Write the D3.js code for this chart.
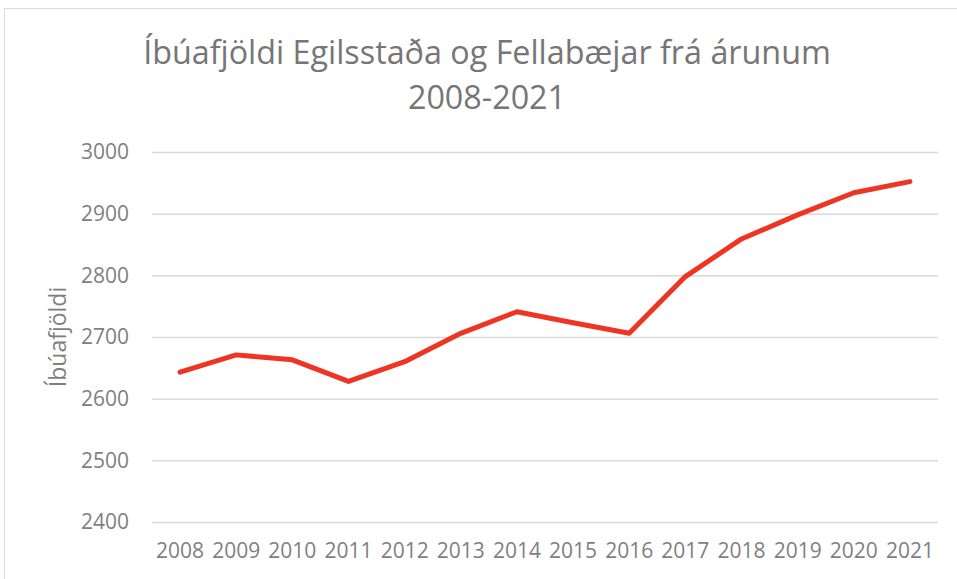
<!DOCTYPE html>
<html lang="is">

<head>
    <meta charset="UTF-8">
    <title>Íbúafjöldi</title>
    <style>
        html, body {
            margin: 0;
            padding: 0;
            background: #fff;
        }

        text {
            font-family: "Open Sans", "Noto Sans", sans-serif;
            fill: #7f7f7f;
        }
    </style>
</head>

<body>
    <div id="wrapper"></div>

    <script src="https://d3js.org/d3.v7.min.js"></script>
    <script>
        // gögn lesin af myndinni
        const years = ['2008', '2009', '2010', '2011', '2012', '2013', '2014',
            '2015', '2016', '2017', '2018', '2019', '2020', '2021'];
        const population = [2643, 2671, 2663, 2628, 2660, 2706, 2741,
            2723, 2706, 2798, 2859, 2898, 2934, 2952];
        const yTicks = [2400, 2500, 2600, 2700, 2800, 2900, 3000];
        const titleLines = ['Íbúafjöldi Egilsstaða og Fellabæjar frá árunum', '2008-2021'];
        const yLabel = 'Íbúafjöldi';

        const width = 957,
            height = 579;
        const plot = { left: 152, right: 938, top: 152, bottom: 522 };

        const svg = d3.select('#wrapper').append('svg')
            .attr('width', width)
            .attr('height', height);

        // rammi utan um grafið
        svg.append('rect')
            .attr('x', 4.5)
            .attr('y', 8.5)
            .attr('width', width + 10)
            .attr('height', height + 10)
            .attr('fill', 'none')
            .attr('stroke', '#d9d9d9')
            .attr('stroke-width', 1);

        // titill
        svg.append('text')
            .attr('text-anchor', 'middle')
            .style('font-size', '32.3px')
            .style('fill', '#767676')
            .selectAll('tspan')
            .data(titleLines)
            .join('tspan')
            .attr('x', 487)
            .attr('y', (d, i) => 64 + i * 45)
            .text(d => d);

        const xScale = d3.scaleBand()
            .domain(years)
            .range([plot.left, plot.right]);

        const yScale = d3.scaleLinear()
            .domain([2400, 3000])
            .range([plot.bottom, plot.top]);

        // y-ás með gridlínum
        const yAxis = d3.axisLeft(yScale)
            .tickValues(yTicks)
            .tickFormat(d3.format('d'))
            .tickSizeInner(-(plot.right - plot.left))
            .tickSizeOuter(0)
            .tickPadding(23);

        const yAxisLine = svg.append('g')
            .attr('transform', `translate(${plot.left},0)`)
            .call(yAxis);
        yAxisLine.select('.domain').remove();
        yAxisLine.selectAll('.tick line')
            .attr('stroke', '#d9d9d9')
            .attr('stroke-width', 1.5);
        yAxisLine.selectAll('.tick text')
            .style('font-size', '21px')
            .attr('fill', null);

        // x-ás
        const xAxis = d3.axisBottom(xScale)
            .tickSize(0)
            .tickPadding(21);

        const xAxisLine = svg.append('g')
            .attr('transform', `translate(0,${plot.bottom})`)
            .call(xAxis);
        xAxisLine.select('.domain').remove();
        xAxisLine.selectAll('.tick text')
            .style('font-size', '21px')
            .attr('fill', null);

        // heiti y-áss
        svg.append('text')
            .attr('transform', `translate(66,${(plot.top + plot.bottom) / 2}) rotate(-90)`)
            .attr('text-anchor', 'middle')
            .style('font-size', '23px')
            .text(yLabel);

        // línan
        const line = d3.line()
            .x((d, i) => xScale(years[i]) + xScale.bandwidth() / 2)
            .y(d => yScale(d));

        svg.append('path')
            .attr('d', line(population))
            .attr('fill', 'none')
            .attr('stroke', '#ee3524')
            .attr('stroke-width', 5)
            .attr('stroke-linejoin', 'round')
            .attr('stroke-linecap', 'round');
    </script>
</body>

</html>
